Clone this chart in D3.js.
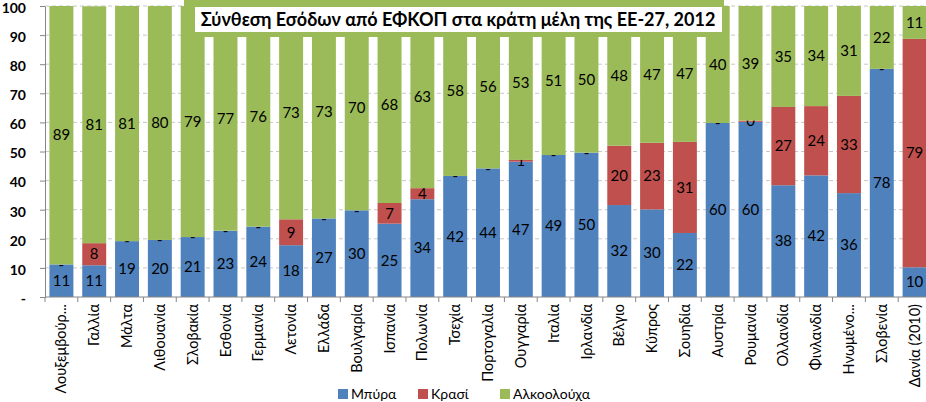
<!DOCTYPE html>
<html>
<head>
<meta charset="utf-8">
<script src="https://cdn.jsdelivr.net/npm/d3@7"></script>
<style>
  body { margin: 0; background: #fff; }
  text { font-family: Lato, "Open Sans", sans-serif; }
</style>
</head>
<body>
<div id="chart"></div>
<script>
const countries = ["Λουξεμβούρ...", "Γαλλία", "Μάλτα", "Λιθουανία", "Σλοβακία", "Εσθονία", "Γερμανία",
  "Λετονία", "Ελλάδα", "Βουλγαρία", "Ισπανία", "Πολωνία", "Τσεχία", "Πορτογαλία", "Ουγγαρία",
  "Ιταλία", "Ιρλανδία", "Βέλγιο", "Κύπρος", "Σουηδία", "Αυστρία", "Ρουμανία", "Ολλανδία",
  "Φινλανδία", "Ηνωμένο...", "Σλοβενία", "Δανία (2010)"];
const beer = [11.2, 10.9, 19.2, 19.6, 20.6, 22.8, 24.2, 17.8, 27.0, 29.8, 25.2, 33.6, 41.6, 44.2,
  46.5, 48.8, 49.6, 31.6, 30.1, 22.0, 59.8, 60.2, 38.4, 41.8, 35.7, 78.4, 10.2];
const wine = [0, 7.6, 0, 0, 0, 0, 0, 8.9, 0, 0, 7.1, 3.8, 0, 0,
  0.6, 0, 0, 20.4, 22.9, 31.3, 0, 0.4, 26.9, 23.8, 33.4, 0, 78.5];
const spirits = [88.8, 81.4, 80.8, 80.4, 79.4, 77.2, 75.8, 73.3, 73.0, 70.2, 67.7, 62.6, 58.4, 55.8,
  52.9, 51.2, 50.4, 48.0, 47.0, 46.7, 40.2, 39.4, 34.7, 34.4, 30.9, 21.6, 11.3];
const seriesNames = ["Μπύρα", "Κρασί", "Αλκοολούχα"];
const seriesColors = ["#4F81BD", "#C0504D", "#9BBB59"];
const yTicks = [0, 10, 20, 30, 40, 50, 60, 70, 80, 90, 100];
const title = "Σύνθεση Εσόδων από ΕΦΚΟΠ στα κράτη μέλη της ΕΕ-27, 2012";

const W = 926, H = 402;
const margin = { top: 6, right: -5, bottom: 105, left: 45 };
const width = W - margin.left - margin.right;
const height = H - margin.top - margin.bottom;

const rows = countries.map((c, i) => ({ country: c, "Μπύρα": beer[i], "Κρασί": wine[i], "Αλκοολούχα": spirits[i] }));
const stacked = d3.stack().keys(seriesNames)(rows);

const svg = d3.select("#chart").append("svg")
    .attr("width", W)
    .attr("height", H)
  .append("g")
    .attr("transform", `translate(${margin.left}, ${margin.top})`);

const x = d3.scaleBand().domain(countries).range([0, width]).paddingInner(0.27).paddingOuter(0.135);
const y = d3.scaleLinear().domain([0, 100]).range([height, 0]);
const color = d3.scaleOrdinal().domain(seriesNames).range(seriesColors);

// grid
svg.append("g")
  .selectAll("line")
  .data(yTicks.slice(1))
  .enter().append("line")
    .attr("x1", 0).attr("x2", width)
    .attr("y1", d => y(d)).attr("y2", d => y(d))
    .attr("stroke", "#c8c8c8")
    .attr("stroke-dasharray", "4,3");

// bars
const layers = svg.selectAll("g.layer")
  .data(stacked)
  .enter().append("g")
    .attr("class", "layer")
    .attr("fill", d => color(d.key));

layers.selectAll("rect")
  .data(d => d)
  .enter().append("rect")
    .attr("x", d => x(d.data.country))
    .attr("width", x.bandwidth())
    .attr("y", d => y(d[1]))
    .attr("height", d => y(d[0]) - y(d[1]));

// y axis
const yAxis = svg.append("g")
  .call(d3.axisLeft(y).tickValues(yTicks).tickSize(5).tickSizeOuter(0)
    .tickFormat(d => d === 0 ? "-" : d));
yAxis.select(".domain").attr("stroke", "#868686");
yAxis.selectAll(".tick line").attr("stroke", "#868686");
yAxis.selectAll(".tick text")
  .attr("x", -19)
  .attr("dy", "0.45em")
  .style("font-size", "14px")
  .style("font-weight", "bold")
  .attr("fill", "#000");

// x axis with ticks between bands
const xAxis = svg.append("g").attr("transform", `translate(0, ${height})`);
xAxis.append("line")
  .attr("x1", 0).attr("x2", width)
  .attr("stroke", "#868686");
const step = x.step();
xAxis.selectAll("line.tk")
  .data(d3.range(countries.length + 1))
  .enter().append("line")
    .attr("class", "tk")
    .attr("x1", i => i * step).attr("x2", i => i * step)
    .attr("y1", 0).attr("y2", 5)
    .attr("stroke", "#868686");
xAxis.selectAll("text")
  .data(countries)
  .enter().append("text")
    .attr("transform", d => `translate(${x(d) + x.bandwidth() / 2}, 7) rotate(-90)`)
    .attr("dy", "0.35em")
    .style("text-anchor", "end")
    .style("font-size", "14.5px")
    .text(d => d);

// data labels
layers.selectAll("text")
  .data(d => d)
  .enter().append("text")
    .attr("x", d => x(d.data.country) + x.bandwidth() / 2)
    .attr("y", d => y((d[0] + d[1]) / 2))
    .attr("dy", "0.35em")
    .attr("fill", "#000")
    .style("text-anchor", "middle")
    .style("font-size", "15px")
    .text(d => {
      const v = d[1] - d[0];
      return v === 0 ? "-" : Math.round(v);
    });

// title box
const tg = svg.append("g").attr("transform", `translate(${-margin.left}, ${-margin.top})`);
tg.append("rect")
  .attr("x", 184).attr("y", -6)
  .attr("width", 540).attr("height", 43)
  .attr("rx", 6)
  .attr("fill", "#9BBB59");
tg.append("rect")
  .attr("x", 195).attr("y", 7)
  .attr("width", 527).attr("height", 25)
  .attr("fill", "#fff");
tg.append("text")
  .attr("x", 458).attr("y", 20)
  .attr("dy", "0.35em")
  .style("text-anchor", "middle")
  .style("font-size", "18px")
  .style("font-weight", "bold")
  .text(title);

// legend
const legendX = [338, 418, 500];
const legend = tg.selectAll("g.legend")
  .data(seriesNames)
  .enter().append("g")
    .attr("class", "legend")
    .attr("transform", (d, i) => `translate(${legendX[i]}, 394)`);
legend.append("rect")
  .attr("x", 0).attr("y", -5)
  .attr("width", 10).attr("height", 10)
  .attr("fill", d => color(d));
legend.append("text")
  .attr("x", 13)
  .attr("dy", "0.35em")
  .style("font-size", "14px")
  .text(d => d);
</script>
</body>
</html>
